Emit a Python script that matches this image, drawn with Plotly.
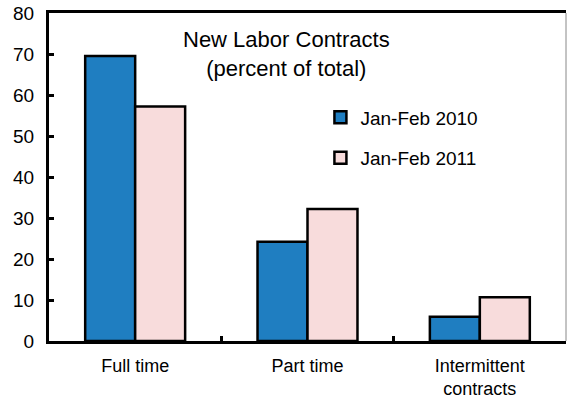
import plotly.graph_objects as go

categories = ["Full time", "Part time", "Intermittent<br>contracts"]
series_names = ["Jan-Feb 2010", "Jan-Feb 2011"]
values_2010 = [69.5, 24.2, 5.9]
values_2011 = [57.2, 32.2, 10.7]
y_ticks = [0, 10, 20, 30, 40, 50, 60, 70, 80]

FONT = "Arial, Liberation Sans, sans-serif"
colors = ["#1F7EC1", "#F8DCDC"]

fig = go.Figure()
for name, vals, col, grp in zip(series_names, [values_2010, values_2011], colors, ["a", "b"]):
    fig.add_trace(go.Bar(
        x=categories, y=vals, name=name, legendgroup=grp,
        marker=dict(color=col, line=dict(color="black", width=2.5)),
    ))

fig.update_layout(
    width=567, height=400,
    margin=dict(l=49, r=1, t=13, b=59, autoexpand=False),
    paper_bgcolor="white", plot_bgcolor="white",
    barmode="group", bargap=0.42, bargroupgap=0,
    font=dict(family=FONT, size=19, color="black"),
    showlegend=True,
    legend=dict(
        x=0.525, y=0.74, xanchor="left", yanchor="top",
        bgcolor="rgba(0,0,0,0)", borderwidth=0,
        traceorder="grouped", tracegroupgap=13,
        font=dict(family=FONT, size=19, color="black"),
        itemwidth=30,
    ),
    annotations=[dict(
        text="New Labor Contracts<br>(percent of total)",
        xref="paper", yref="paper", x=0.46, y=0.875,
        xanchor="center", yanchor="middle", showarrow=False,
        font=dict(family=FONT, size=22, color="black"),
    )],
    shapes=[dict(
        type="line", xref="paper", yref="paper", x0=1, x1=1, y0=0, y1=1,
        line=dict(color="#888888", width=1),
    )],
)

fig.update_xaxes(
    automargin=False,
    showline=True, linecolor="black", linewidth=3, mirror=True,
    ticks="inside", tickson="boundaries", ticklen=5, tickwidth=3, tickcolor="black",
    showgrid=False, zeroline=False,
    tickfont=dict(family=FONT, size=18, color="black"),
    ticklabelstandoff=6,
)
fig.update_yaxes(
    automargin=False,
    range=[0, 80], tickvals=y_ticks, ticktext=[str(v) for v in y_ticks],
    showline=True, linecolor="black", linewidth=3,
    ticks="inside", ticklen=5, tickwidth=3, tickcolor="black",
    showgrid=False, zeroline=False,
    tickfont=dict(family=FONT, size=19, color="black"),
    ticklabelstandoff=8,
)

fig.write_html(
    "out.html",
    config={"displayModeBar": False},
    post_script="document.body.style.margin='0';document.body.style.overflow='hidden';",
)
